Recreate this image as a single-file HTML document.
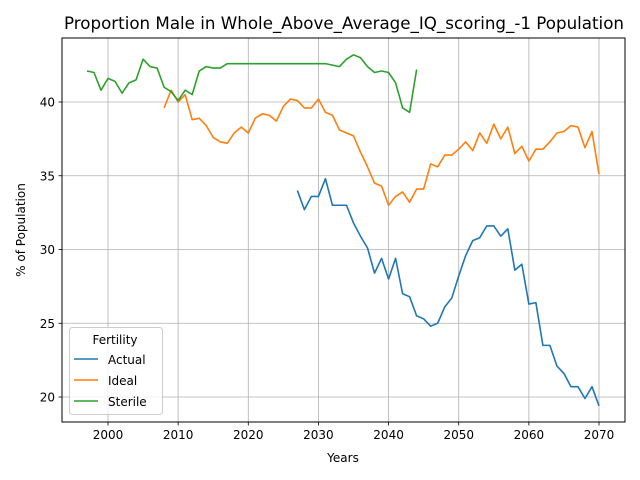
<!DOCTYPE html>
<html><head><meta charset="utf-8"><style>
body{margin:0;background:#fff;}
svg{display:block;font-family:"DejaVu Sans","Liberation Sans",sans-serif;}
</style></head><body>
<svg id="chart" width="640" height="480" viewBox="0 0 640 480">
<rect width="640" height="480" fill="#fff"/>
<g id="grid"></g>
<g id="series"></g>
<rect x="62" y="38" width="563" height="384" fill="none" stroke="#000" stroke-width="1"/>
<g id="axes"></g>
<text x="344" y="29" font-size="16.7" text-anchor="middle">Proportion Male in Whole_Above_Average_IQ_scoring_-1 Population</text>
<text x="343" y="462" font-size="12" text-anchor="middle">Years</text>
<text transform="translate(25,230) rotate(-90)" font-size="12" text-anchor="middle">% of Population</text>
<g id="legend">
<rect x="69.5" y="327.5" width="93" height="87" rx="3" fill="#fff" fill-opacity="0.8" stroke="#ccc"/>
<text x="115" y="344" font-size="12" text-anchor="middle">Fertility</text>
<line x1="74" y1="359" x2="98" y2="359" stroke="#1f77b4" stroke-width="1.5"/>
<text x="108" y="364" font-size="12">Actual</text>
<line x1="74" y1="380" x2="98" y2="380" stroke="#ff7f0e" stroke-width="1.5"/>
<text x="108" y="385" font-size="12">Ideal</text>
<line x1="74" y1="401" x2="98" y2="401" stroke="#2ca02c" stroke-width="1.5"/>
<text x="108" y="406" font-size="12">Sterile</text>
</g>
</svg>
<script>
const xTicks=[2000,2010,2020,2030,2040,2050,2060,2070];
const yTicks=[20,25,30,35,40];
const sterileStart=1997;
const sterileVals=[42.1,42.0,40.8,41.6,41.4,40.6,41.3,41.5,42.9,42.4,42.3,41.0,40.7,40.1,40.8,40.5,42.1,42.4,42.3,42.3,42.6,42.6,42.6,42.6,42.6,42.6,42.6,42.6,42.6,42.6,42.6,42.6,42.6,42.6,42.6,42.5,42.4,42.9,43.2,43.0,42.4,42.0,42.1,42.0,41.3,39.6,39.3,42.2];
const idealStart=2008;
const idealVals=[39.6,40.8,40.0,40.5,38.8,38.9,38.4,37.6,37.3,37.2,37.9,38.3,37.9,38.9,39.2,39.1,38.7,39.7,40.2,40.1,39.6,39.6,40.2,39.3,39.1,38.1,37.9,37.7,36.6,35.6,34.5,34.3,33.0,33.6,33.9,33.2,34.1,34.1,35.8,35.6,36.4,36.4,36.8,37.3,36.7,37.9,37.2,38.5,37.5,38.3,36.5,37.0,36.0,36.8,36.8,37.3,37.9,38.0,38.4,38.3,36.9,38.0,35.1];
const actualStart=2027;
const actualVals=[34.0,32.7,33.6,33.6,34.8,33.0,33.0,33.0,31.8,30.9,30.1,28.4,29.4,28.0,29.4,27.0,26.8,25.5,25.3,24.8,25.0,26.1,26.7,28.2,29.6,30.6,30.8,31.6,31.6,30.9,31.4,28.6,29.0,26.3,26.4,23.5,23.5,22.1,21.6,20.7,20.7,19.9,20.7,19.4];
const NS='http://www.w3.org/2000/svg';
const xs=v=>108+(v-2000)*(599-108)/70;
const ys=v=>102+(40-v)*(397-102)/20;
const grid=document.getElementById('grid'),axes=document.getElementById('axes'),ser=document.getElementById('series');
function mk(tag,attrs,parent){const e=document.createElementNS(NS,tag);for(const k in attrs)e.setAttribute(k,attrs[k]);parent.appendChild(e);return e;}
xTicks.forEach(t=>{
 const x=xs(t);
 const g=mk('line',{x1:x,x2:x,y1:38,y2:422,stroke:'#b0b0b0','stroke-width':0.8},grid);
 
 
 const tk=mk('line',{x1:x,x2:x,y1:422,y2:425.5,stroke:'#000','stroke-width':0.8},axes);
 
 
 const l=mk('text',{x:x,y:439,'font-size':12,'text-anchor':'middle'},axes);l.textContent=t;
 
 
});
yTicks.forEach(t=>{
 const y=ys(t);
 const g=mk('line',{x1:62,x2:625,y1:y,y2:y,stroke:'#b0b0b0','stroke-width':0.8},grid);
 
 
 const tk=mk('line',{x1:58.5,x2:62,y1:y,y2:y,stroke:'#000','stroke-width':0.8},axes);
 
 
 const l=mk('text',{x:55,y:y+4.5,'font-size':12,'text-anchor':'end'},axes);l.textContent=t;
 
 
});
function line(start,vals,color,name){
 const pts=vals.map((v,i)=>xs(start+i).toFixed(2)+','+ys(v).toFixed(2)).join(' ');
 const p=mk('polyline',{points:pts,fill:'none',stroke:color,'stroke-width':1.6,'stroke-linejoin':'round'},ser);
 
 
}
line(actualStart,actualVals,'#1f77b4','actual-line');
line(idealStart,idealVals,'#ff7f0e','ideal-line');
line(sterileStart,sterileVals,'#2ca02c','sterile-line');
</script>
</body></html>
